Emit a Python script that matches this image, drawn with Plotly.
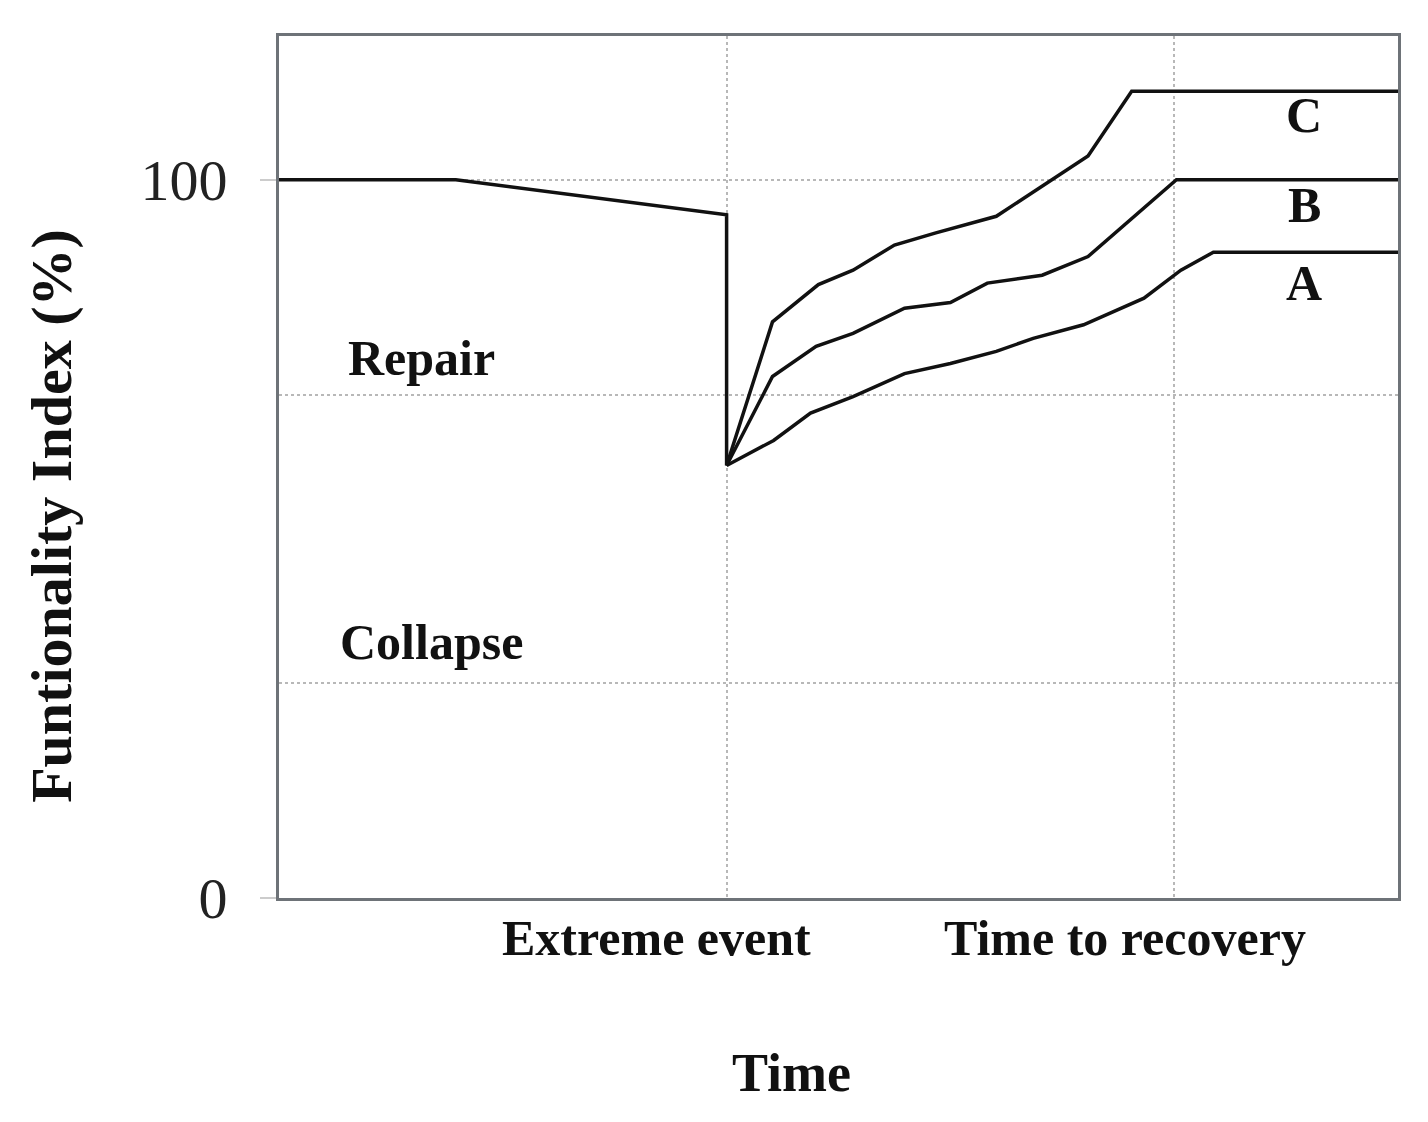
import plotly.graph_objects as go

# time axis in arbitrary units, event at 4, recovery at 8
pre_time = [0, 1.58, 4, 4]
pre_func = [100, 100, 95.1, 60.2]

a_time = [4, 4.42, 4.75, 5.13, 5.59, 6.00, 6.41, 6.74, 7.19, 7.73, 8.06, 8.35, 10]
a_func = [60.2, 63.7, 67.5, 69.8, 73.0, 74.4, 76.1, 77.9, 79.8, 83.5, 87.4, 89.9, 89.9]

b_time = [4, 4.41, 4.80, 5.13, 5.59, 6.00, 6.33, 6.82, 7.23, 8.02, 10]
b_func = [60.2, 72.6, 76.8, 78.6, 82.1, 82.9, 85.6, 86.7, 89.3, 100, 100]

c_time = [4, 4.41, 4.82, 5.13, 5.50, 5.87, 6.41, 6.90, 7.23, 7.62, 10]
c_func = [60.2, 80.2, 85.4, 87.4, 90.9, 92.6, 94.9, 100, 103.3, 112.3, 112.3]

curve_labels = ["A", "B", "C"]
label_pos = [85.6, 96.5, 109]
label_x = 9.16

y_ticks = [0, 100]
y_grid = [30, 70]
x_grid = [4, 8]
x_labels = ["Extreme event", "Time to recovery"]
x_label_pos = [3.37, 7.56]

zones = ["Repair", "Collapse"]
zone_x = [1.27, 1.36]
zone_y = [75.2, 35.7]

SERIF = "Liberation Serif"
LINE = dict(color="#111111", width=3.5)

fig = go.Figure()
fig.add_trace(go.Scatter(x=pre_time, y=pre_func, mode="lines", line=LINE))
fig.add_trace(go.Scatter(x=a_time, y=a_func, mode="lines", line=LINE))
fig.add_trace(go.Scatter(x=b_time, y=b_func, mode="lines", line=LINE))
fig.add_trace(go.Scatter(x=c_time, y=c_func, mode="lines", line=LINE))

annotations = []
for lab, yy in zip(curve_labels, label_pos):
    annotations.append(dict(x=label_x, y=yy, text="<b>%s</b>" % lab, showarrow=False,
                            font=dict(family=SERIF, size=50, color="#111")))
for z, zx, zy in zip(zones, zone_x, zone_y):
    annotations.append(dict(x=zx, y=zy, text="<b>%s</b>" % z, showarrow=False,
                            font=dict(family=SERIF, size=50, color="#111")))
for lab, xx in zip(x_labels, x_label_pos):
    annotations.append(dict(x=xx, y=0, yref="paper", yshift=-40, yanchor="middle",
                            xanchor="center", text="<b>%s</b>" % lab, showarrow=False,
                            font=dict(family=SERIF, size=50, color="#111")))
# axis titles
annotations.append(dict(x=0.4576, y=-0.203, xref="paper", yref="paper", text="<b>Time</b>",
                        xanchor="center", yanchor="middle",
                        showarrow=False, font=dict(family=SERIF, size=54, color="#111")))
annotations.append(dict(x=-0.204, y=0.443, xref="paper", yref="paper",
                        text="<b>Funtionality Index (%)</b>", textangle=-90,
                        xanchor="center", yanchor="middle",
                        showarrow=False, font=dict(family=SERIF, size=58, color="#111")))

fig.update_layout(
    width=1428, height=1122,
    margin=dict(l=271, r=38, t=28, b=232),
    paper_bgcolor="white", plot_bgcolor="white",
    showlegend=False,
    annotations=annotations,
)
fig.update_xaxes(range=[0, 10], tickvals=x_grid, showticklabels=False, ticks="",
                 showgrid=True, gridcolor="#b8b8b8", griddash="dot", gridwidth=2,
                 showline=True, linecolor="#6e7378", linewidth=3, mirror=True, zeroline=False)
fig.update_yaxes(range=[0, 120], tickvals=y_ticks, ticks="outside", ticklen=16,
                 tickcolor="#cccccc", tickwidth=2, ticklabelstandoff=21,
                 tickfont=dict(family=SERIF, size=58, color="#222"),
                 showgrid=True, gridcolor="#b8b8b8", griddash="dot", gridwidth=2,
                 minor=dict(tickvals=y_grid, showgrid=True, gridcolor="#b8b8b8",
                            griddash="dot", gridwidth=2, ticks=""),
                 showline=True, linecolor="#6e7378", linewidth=3, mirror=True, zeroline=False)

fig.write_html("out.html")
